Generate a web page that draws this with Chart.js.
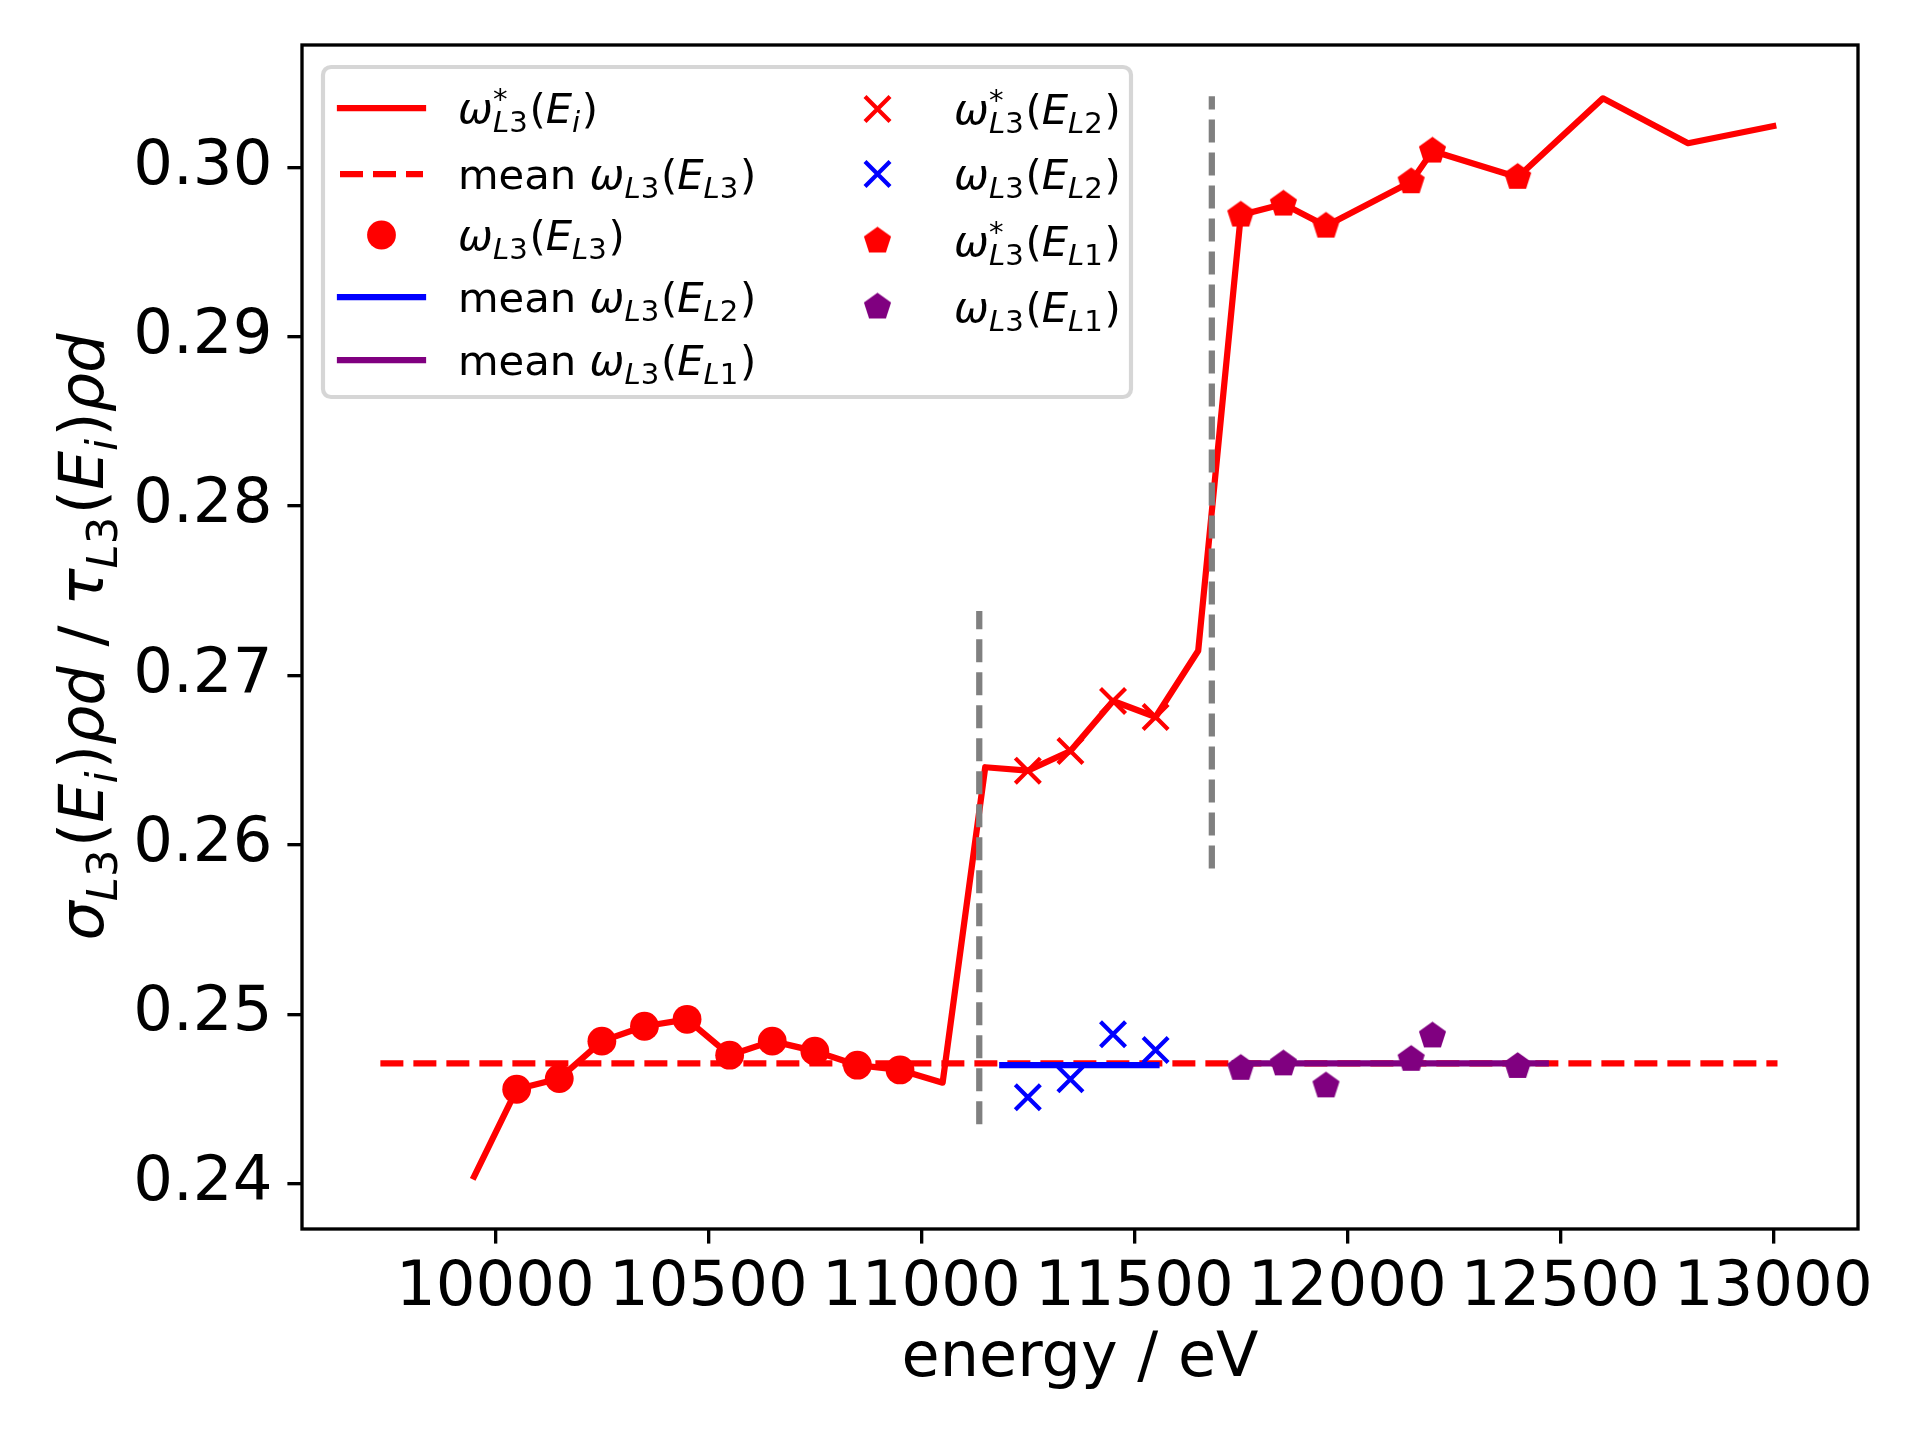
<!DOCTYPE html>
<html>
<head>
<meta charset="utf-8">
<script src="https://cdn.jsdelivr.net/npm/chart.js@4"></script>
<style>
html,body{margin:0;padding:0;background:#fff;}
canvas{display:block;}
</style>
</head>
<body>
<canvas id="c" width="1920" height="1440"></canvas>
<script>
// ---- data ----
const energyMain = [9950,10050,10150,10250,10350,10450,10550,10650,10750,10850,10950,11050,11150,11250,11350,11450,11550,11650,11750,11850,11950,12150,12200,12400,12600,12800,13000];
const omegaStarMain = [0.24041,0.24557,0.24620,0.24841,0.24929,0.24970,0.24758,0.24841,0.24782,0.24699,0.24671,0.24596,0.26458,0.26438,0.26554,0.26849,0.26755,0.27146,0.29718,0.29783,0.29653,0.29915,0.30096,0.29941,0.30407,0.30142,0.30243];

const energyL3 = [10050,10150,10250,10350,10450,10550,10650,10750,10850,10950];
const omegaL3 = [0.24557,0.24620,0.24841,0.24929,0.24970,0.24758,0.24841,0.24782,0.24699,0.24671];

const energyL2 = [11250,11350,11450,11550];
const omegaStarL2 = [0.26438,0.26554,0.26849,0.26755];
const omegaL2 = [0.24510,0.24616,0.24882,0.24789];

const energyL1 = [11750,11850,11950,12150,12200,12400];
const omegaStarL1 = [0.29718,0.29783,0.29653,0.29915,0.30096,0.29941];
const omegaL1 = [0.24681,0.24707,0.24577,0.24734,0.24872,0.24692];

const meanL3 = 0.2471;  const meanL3Range = [9730, 13010];
const meanL2 = 0.2470;  const meanL2Range = [11190, 11552];
const meanL1 = 0.2471;  const meanL1Range = [11736, 12466];

const edgeEnergies = [11136, 11682];
const edgeLow = [0.2435, 0.2586];
const edgeHigh = [0.2738, 0.3042];

const xTicks = [10000,10500,11000,11500,12000,12500,13000];
const yTicks = [0.24,0.25,0.26,0.27,0.28,0.29,0.30];
const xRange = [9546, 13199];
const yRange = [0.23732, 0.30722];

// ---- styles ----
const RED = '#ff0000', BLUE = '#0000ff', PURPLE = '#800080', GRAY = '#808080';
const LW = 6.25;
const DASH = [23, 10];
const FONT = '"DejaVu Sans"';

function makePentagon(color, r) {
  const s = Math.ceil(2 * r + 4);
  const c = document.createElement('canvas');
  c.width = s; c.height = s;
  const g = c.getContext('2d');
  g.fillStyle = color;
  g.beginPath();
  for (let k = 0; k < 5; k++) {
    const a = -Math.PI / 2 + k * 2 * Math.PI / 5;
    const px = s / 2 + r * Math.cos(a), py = s / 2 + r * Math.sin(a);
    if (k) g.lineTo(px, py); else g.moveTo(px, py);
  }
  g.closePath();
  g.fill();
  return c;
}
const pentRed = makePentagon(RED, 14.3);
const pentPurple = makePentagon(PURPLE, 14.3);

const pts = (xs, ys) => xs.map((x, i) => ({x: x, y: ys[i]}));
const hline = (r, v) => [{x: r[0], y: v}, {x: r[1], y: v}];

const lineDs = (label, data, color, dash, order) => ({
  label, data, showLine: true, borderColor: color, backgroundColor: color,
  borderWidth: LW, borderDash: dash || [], pointRadius: 0, pointHoverRadius: 0,
  borderJoinStyle: 'round', borderCapStyle: dash ? 'butt' : 'square', order
});
const markDs = (label, data, color, style, radius, bw, order) => ({
  label, data, showLine: false, pointStyle: style, pointRadius: radius, pointHoverRadius: radius,
  backgroundColor: color, borderColor: color, pointBorderWidth: bw, borderWidth: bw, order
});

const datasets = [
  lineDs('ω*L3(Ei)', pts(energyMain, omegaStarMain), RED, null, 100),
  lineDs('mean ωL3(EL3)', hline(meanL3Range, meanL3), RED, DASH, 99),
  markDs('ωL3(EL3)', pts(energyL3, omegaL3), RED, 'circle', 14.4, 0, 98),
  lineDs('mean ωL3(EL2)', hline(meanL2Range, meanL2), BLUE, null, 97),
  lineDs('mean ωL3(EL1)', hline(meanL1Range, meanL1), PURPLE, null, 96),
  markDs('ω*L3(EL2)', pts(energyL2, omegaStarL2), RED, 'crossRot', 17.7, 4.2, 95),
  markDs('ωL3(EL2)', pts(energyL2, omegaL2), BLUE, 'crossRot', 17.7, 4.2, 94),
  markDs('ω*L3(EL1)', pts(energyL1, omegaStarL1), RED, pentRed, 14.3, 0, 93),
  markDs('ωL3(EL1)', pts(energyL1, omegaL1), PURPLE, pentPurple, 14.3, 0, 92),
];
edgeEnergies.forEach((e, i) => {
  datasets.push(lineDs('', [{x: e, y: edgeLow[i]}, {x: e, y: edgeHigh[i]}], GRAY, DASH, 91 - i));
});

// ---- math text helper ----
const I = t => ({t, it: true});
const M = t => ({t, it: false});
function tok(ctx, q, x, y, size, draw) {
  ctx.font = (q.it ? 'italic ' : '') + size + 'px ' + FONT;
  const w = ctx.measureText(q.t).width;
  if (draw) ctx.fillText(q.t, x, y);
  return w;
}
function renderMath(ctx, parts, x, y, size, draw) {
  let cx = x;
  for (const p of parts) {
    if (p.t !== undefined) { cx += tok(ctx, p, cx, y, size, draw); }
    else {
      const ss = size * 0.7;
      let w1 = 0, w2 = 0;
      if (p.sup) { let sx = cx; for (const q of p.sup) sx += tok(ctx, q, sx, y - size * 0.33, ss, draw); w1 = sx - cx; }
      if (p.sub) { let sx = cx; for (const q of p.sub) sx += tok(ctx, q, sx, y + size * 0.22, ss, draw); w2 = sx - cx; }
      cx += Math.max(w1, w2) + size * 0.04;
    }
  }
  return cx - x;
}
const subL3 = [I('L'), M('3')];
const omegaStar = [I('ω'), {sup: [M('*')], sub: subL3}];
const omega = [I('ω'), {sub: subL3}];
const ofE = s => [M('('), I('E'), {sub: s}, M(')')];
const subLn = n => [I('L'), M(String(n))];

const legendCol1 = [
  {kind: 'line', color: RED, text: [...omegaStar, ...ofE([I('i')])]},
  {kind: 'dash', color: RED, text: [M('mean '), ...omega, ...ofE(subLn(3))]},
  {kind: 'circle', color: RED, text: [...omega, ...ofE(subLn(3))]},
  {kind: 'line', color: BLUE, text: [M('mean '), ...omega, ...ofE(subLn(2))]},
  {kind: 'line', color: PURPLE, text: [M('mean '), ...omega, ...ofE(subLn(1))]},
];
const legendCol2 = [
  {kind: 'cross', color: RED, text: [...omegaStar, ...ofE(subLn(2))]},
  {kind: 'cross', color: BLUE, text: [...omega, ...ofE(subLn(2))]},
  {kind: 'pent', img: pentRed, text: [...omegaStar, ...ofE(subLn(1))]},
  {kind: 'pent', img: pentPurple, text: [...omega, ...ofE(subLn(1))]},
];
const rows1 = [108, 174, 235, 297, 360];
const rows2 = [109, 174, 241, 307];

const yLabelParts = [I('σ'), {sub: subL3}, ...ofE([I('i')]), I('ρd'), M(' / '), I('τ'), {sub: subL3}, ...ofE([I('i')]), I('ρd')];

function roundRect(ctx, x, y, w, h, r) {
  ctx.beginPath();
  ctx.moveTo(x + r, y);
  ctx.lineTo(x + w - r, y); ctx.arcTo(x + w, y, x + w, y + r, r);
  ctx.lineTo(x + w, y + h - r); ctx.arcTo(x + w, y + h, x + w - r, y + h, r);
  ctx.lineTo(x + r, y + h); ctx.arcTo(x, y + h, x, y + h - r, r);
  ctx.lineTo(x, y + r); ctx.arcTo(x, y, x + r, y, r);
  ctx.closePath();
}

function drawHandle(ctx, item, x0, x1, cy) {
  const cx = (x0 + x1) / 2;
  ctx.save();
  if (item.kind === 'line' || item.kind === 'dash') {
    ctx.strokeStyle = item.color; ctx.lineWidth = LW;
    ctx.lineCap = item.kind === 'dash' ? 'butt' : 'square';
    ctx.setLineDash(item.kind === 'dash' ? DASH : []);
    ctx.beginPath(); ctx.moveTo(x0, cy); ctx.lineTo(x1, cy); ctx.stroke();
  } else if (item.kind === 'circle') {
    ctx.fillStyle = item.color;
    ctx.beginPath(); ctx.arc(cx, cy, 14.4, 0, Math.PI * 2); ctx.fill();
  } else if (item.kind === 'cross') {
    const d = 12.5;
    ctx.strokeStyle = item.color; ctx.lineWidth = 4.2;
    ctx.beginPath();
    ctx.moveTo(cx - d, cy - d); ctx.lineTo(cx + d, cy + d);
    ctx.moveTo(cx + d, cy - d); ctx.lineTo(cx - d, cy + d);
    ctx.stroke();
  } else if (item.kind === 'pent') {
    ctx.drawImage(item.img, cx - item.img.width / 2, cy - item.img.height / 2);
  }
  ctx.restore();
}

const decor = {
  id: 'decor',
  afterDatasetsDraw(chart) {
    const ctx = chart.ctx, a = chart.chartArea;
    ctx.save();
    ctx.strokeStyle = '#000'; ctx.lineWidth = 3.33;
    ctx.strokeRect(a.left, a.top, a.right - a.left, a.bottom - a.top);
    ctx.restore();
  },
  afterDraw(chart) {
    const ctx = chart.ctx, a = chart.chartArea;
    ctx.save();
    // legend box
    roundRect(ctx, 323, 67, 808, 330, 8);
    ctx.fillStyle = 'rgba(255,255,255,0.8)'; ctx.fill();
    ctx.strokeStyle = 'rgba(204,204,204,0.8)'; ctx.lineWidth = 4.17; ctx.stroke();
    ctx.fillStyle = '#000'; ctx.textBaseline = 'alphabetic'; ctx.textAlign = 'left';
    legendCol1.forEach((it, i) => {
      drawHandle(ctx, it, 340, 423, rows1[i]);
      ctx.fillStyle = '#000';
      renderMath(ctx, it.text, 458, rows1[i] + 15, 41.7, true);
    });
    legendCol2.forEach((it, i) => {
      drawHandle(ctx, it, 836, 919, rows2[i]);
      ctx.fillStyle = '#000';
      renderMath(ctx, it.text, 954, rows2[i] + 15, 41.7, true);
    });
    // x label
    ctx.font = '62px ' + FONT; ctx.textAlign = 'center'; ctx.fillStyle = '#000';
    ctx.fillText('energy / eV', (a.left + a.right) / 2, 1376);
    // y label
    ctx.textAlign = 'left';
    ctx.translate(103, (a.top + a.bottom) / 2);
    ctx.rotate(-Math.PI / 2);
    const w = renderMath(ctx, yLabelParts, 0, 0, 62, false);
    renderMath(ctx, yLabelParts, -w / 2, 0, 62, true);
    ctx.restore();
  }
};

const tickFont = {family: FONT, size: 62.5};
new Chart(document.getElementById('c'), {
  type: 'scatter',
  data: {datasets},
  options: {
    responsive: false,
    animation: false,
    events: [],
    layout: {padding: {left: 0, right: 62, top: 45, bottom: 0}},
    plugins: {legend: {display: false}, tooltip: {enabled: false}, title: {display: false}},
    scales: {
      x: {
        type: 'linear', position: 'bottom', min: xRange[0], max: xRange[1],
        afterBuildTicks: s => { s.ticks = xTicks.map(v => ({value: v})); },
        afterFit: s => { s.height = 211; s.paddingLeft = 0; s.paddingRight = 0; },
        border: {display: false},
        grid: {display: true, drawOnChartArea: false, drawTicks: true, tickLength: 14.6, tickWidth: 3.33, tickColor: '#000', lineWidth: 3.33, color: '#000'},
        ticks: {font: tickFont, color: '#000', padding: 8, maxRotation: 0, autoSkip: false, callback: v => String(v)}
      },
      y: {
        type: 'linear', position: 'left', min: yRange[0], max: yRange[1],
        afterBuildTicks: s => { s.ticks = yTicks.map(v => ({value: v})); },
        afterFit: s => { s.width = 302; s.paddingTop = 0; s.paddingBottom = 0; },
        border: {display: false},
        grid: {display: true, drawOnChartArea: false, drawTicks: true, tickLength: 14.6, tickWidth: 3.33, tickColor: '#000', lineWidth: 3.33, color: '#000'},
        ticks: {font: tickFont, color: '#000', padding: 15, autoSkip: false, callback: v => v.toFixed(2)}
      }
    }
  },
  plugins: [decor]
});
</script>
</body>
</html>
